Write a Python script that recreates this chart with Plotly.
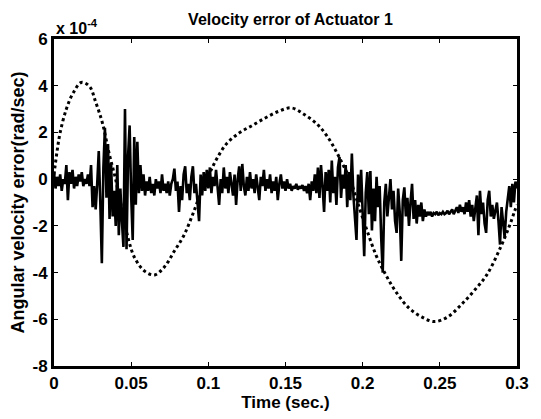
import plotly.graph_objects as go

# Dotted curve (reference / desired velocity shape), units of 1e-4 rad/sec
dot_t = [0.0, 0.002, 0.004, 0.008, 0.0125, 0.0177, 0.023, 0.027, 0.0314, 0.0357,
         0.0399, 0.0441, 0.0483, 0.0525, 0.0589, 0.0652, 0.0715, 0.0778, 0.0842,
         0.0905, 0.0968, 0.101, 0.1053, 0.1116, 0.12, 0.1285, 0.1369, 0.1454,
         0.1538, 0.1622, 0.1707, 0.177, 0.1833, 0.1876, 0.1918, 0.196, 0.2023,
         0.2087, 0.215, 0.2213, 0.2297, 0.2382, 0.2466, 0.2551, 0.2635, 0.2719,
         0.2804, 0.2888, 0.2951, 0.2983, 0.3]
dot_v = [0.2, 1.2, 2.0, 3.0, 3.7, 4.14, 3.97, 3.3, 2.4, 1.1,
         0.0, -1.3, -2.6, -3.4, -3.95, -4.1, -3.76, -3.1, -2.4,
         -1.4, -0.28, 0.28, 0.85, 1.5, 1.98, 2.3, 2.62, 2.9,
         3.05, 2.77, 2.34, 1.84, 1.13, 0.57, 0.0, -0.85, -2.1,
         -3.26, -4.1, -4.8, -5.5, -5.9, -6.1, -5.9, -5.4, -4.8,
         -4.1, -3.0, -2.0, -1.4, -1.1]

# Solid noisy curve, sampled every 0.001 s from 0 to 0.3
solid_v = [
    0.3, -0.4, 0.1, -0.3, 0.2, -0.5, 0.0, -0.2, 0.6, -0.9,
    0.3, -0.2, 0.4, -0.4, 0.1, -0.3, 0.2, -0.1, 0.3, -0.3,
    0.0, -0.2, 0.2, -0.3, 0.6,
    -1.2, -0.3, -1.3, -0.2, 1.2, -1.0, -3.6, 0.5, 2.2, -0.8,
    1.5, -1.7, 0.7, -1.6, -0.5, -2.0, 0.6, -2.4, -0.4, -1.8,
    -2.9, 3.0, -3.0, 1.0, 2.3, -0.7, -2.6, 1.8, -1.1, 1.6,
    -0.6, 0.6,
    -0.5, 0.2, -0.7, -0.1, -0.5, 0.1, -0.6, -0.2, -0.7, 0.0,
    -0.4, -0.1, -0.6, 0.2, -0.5, -0.2, -0.6, -0.1, -0.7, -0.2,
    0.0, 0.45, -0.5, -0.1, -1.4, -0.3, -0.9, 0.2, 0.55, -0.6,
    -0.2, -0.9, 0.1, 0.55, -0.6, -0.2, -1.0, -1.8, 0.2, -0.7,
    0.3, -0.5, 0.4, -0.4,
    0.5, -0.6, 0.1, -0.3, 0.4, -0.5, -1.1, 0.0, -0.6, 0.5,
    -0.4, 0.1, -0.6, 0.3, -0.2, -0.7, 0.2, -1.1, 0.0, 0.55,
    -0.5, 0.65, -0.3, -0.7, 0.1, -0.5, 0.3, -0.4, 0.0, -0.6,
    0.2, -0.4, -0.9, 0.1, -0.3, 0.4, -0.5, 0.0, -0.4, 0.2,
    -0.6, -0.1, -0.5, 0.1, -0.9, -0.2, 0.2, -0.4, -0.1, -0.5,
    0.0, -0.4, -0.2, -0.5, -0.3, -0.4, -0.2, -0.45, -0.3, -0.4,
    -0.25, -0.5, -0.3, -0.6, -0.2, -0.9, -0.1, -0.5, 0.2, -0.6,
    0.5, -0.8, 0.6, -0.3, -1.4, 0.3, -0.5, 0.4, -1.0, 0.8,
    -0.6, 0.1, -1.1, 0.5, 0.95, -0.8, 0.2, -0.4, 0.6, -1.2,
    0.3, -0.9, 1.1, -0.7, -1.6, -2.6, 0.2, -1.0, 0.4, -2.0,
    -3.3, -0.6, 0.3, -1.5, 0.35, -2.2, -0.4, -1.8, 0.1, -1.2,
    -0.3, -2.5, -4.0, -1.0, -0.2, -1.6, -0.6, 0.0, -1.3, -0.5,
    -1.8, -2.3, -0.4, -1.4, -3.5, -0.9, -0.35, -1.6, -0.8, -2.0,
    -1.0, -0.2, -1.7, -0.9, -1.9, -1.1, -1.6, -1.0, -1.8, -1.3,
    -1.6, -1.4, -1.55, -1.4, -1.6, -1.45, -1.5, -1.4, -1.55, -1.45,
    -1.5, -1.4, -1.5, -1.45, -1.35, -1.5, -1.4, -1.3, -1.5, -1.35,
    -1.2, -1.45, -1.1, -1.4, -1.2, -1.5, -1.0, -1.4, -0.9, -1.6,
    -1.1, -1.8, -1.2, -0.7, -2.4, -0.5, -1.5, -1.0, -1.9, -2.3,
    -0.9, -0.5, -1.6, -1.1, -1.7, -1.3, -1.0, -1.8, -2.8, -1.2,
    -1.9, -2.5, -1.4, -0.7, -0.3, -1.2, -0.2, -1.0, -0.1, -0.4,
]
solid_t = [round(i * 0.001, 3) for i in range(len(solid_v))]

x_ticks = [0, 0.05, 0.1, 0.15, 0.2, 0.25, 0.3]
x_ticklabels = ["0", "0.05", "0.1", "0.15", "0.2", "0.25", "0.3"]
y_ticks = [-8, -6, -4, -2, 0, 2, 4, 6]
y_ticklabels = ["-8", "-6", "-4", "-2", "0", "2", "4", "6"]

FONT = "Liberation Sans, Arial, sans-serif"

fig = go.Figure()
fig.add_trace(go.Scatter(x=dot_t, y=dot_v, mode="lines", line_shape="spline",
                         line=dict(color="black", width=3, dash="dot"),
                         showlegend=False))
fig.add_trace(go.Scatter(x=solid_t, y=solid_v, mode="lines",
                         line=dict(color="black", width=2.6),
                         showlegend=False))

axis_common = dict(showline=True, linecolor="black", linewidth=3, mirror="ticks",
                   ticks="inside", ticklen=4, tickwidth=1, tickcolor="black",
                   showgrid=False, zeroline=False,
                   tickfont=dict(family=FONT, size=17, color="black", weight="bold"))

fig.update_layout(
    width=541, height=419,
    margin=dict(l=54, r=14, t=39, b=51),
    paper_bgcolor="white", plot_bgcolor="white",
    title=dict(text="Velocity error of Actuator 1", x=0.537, xanchor="center",
               y=0.953, yanchor="middle",
               font=dict(family=FONT, size=16, color="black", weight="bold")),
    xaxis=dict(range=[0, 0.3], tickvals=x_ticks, ticktext=x_ticklabels,
               title=dict(text="Time (sec.)", standoff=2,
                          font=dict(family=FONT, size=17, color="black", weight="bold")),
               **axis_common),
    yaxis=dict(range=[-8, 6], tickvals=y_ticks, ticktext=y_ticklabels,
               title=dict(text="Angular velocity error(rad/sec)", standoff=4,
                          font=dict(family=FONT, size=18, color="black", weight="bold")),
               **axis_common),
    annotations=[dict(text="x 10<sup>-4</sup>", xref="paper", yref="paper",
                      x=0.0, y=1.0, xanchor="left", yanchor="bottom", showarrow=False,
                      font=dict(family=FONT, size=16, color="black", weight="bold"))],
)

fig.write_html("out.html")
